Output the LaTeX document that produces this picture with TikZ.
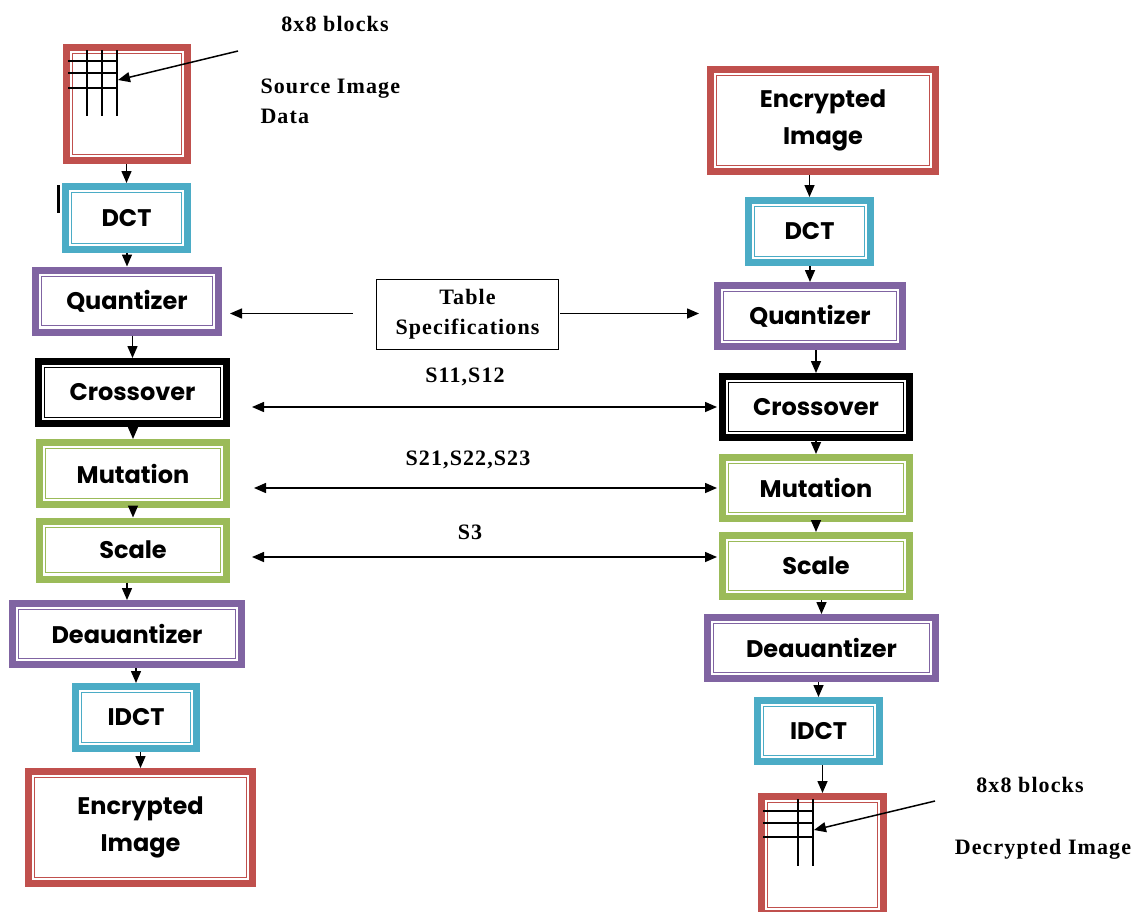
\documentclass[tikz,border=0pt]{standalone}
\usepackage{fontspec}
\setmainfont{Liberation Serif}
\newfontfamily\gothic{Poppins}
\newfontfamily\lblserif{Liberation Serif}[LetterSpace=5]
\usetikzlibrary{positioning,arrows.meta,calc}
\definecolor{encred}{HTML}{C0504D}
\definecolor{dctblue}{HTML}{4BACC6}
\definecolor{qpurple}{HTML}{8064A2}
\definecolor{gagreen}{HTML}{9BBB59}
\tikzset{
  stage/.style={draw=#1,line width=7pt,fill=white,inner sep=0pt,align=center,
    font=\gothic\bfseries\fontsize{24}{37}\selectfont,
    path picture={\draw[#1,line width=1.3pt]
      ([shift={(6.2pt,6.2pt)}]path picture bounding box.south west) rectangle
      ([shift={(-6.2pt,-6.2pt)}]path picture bounding box.north east);}}, % double frame
  dims/.style 2 args={minimum width=#1pt-7pt,minimum height=#2pt-7pt},
  flow/.style={-{Triangle[length=12pt,width=10pt]},line width=1.5pt},
  link/.style={{Triangle[length=12pt,width=10pt]}-{Triangle[length=12pt,width=10pt]},line width=1.5pt},
  lbl/.style={font=\lblserif\bfseries\fontsize{22}{30}\selectfont},
  blk/.style={line width=1.6pt},
}
\begin{document}
\begin{tikzpicture}[x=1pt,y=-1pt]
  \useasboundingbox (0,0) rectangle (1148,911);
  % ---- encryption side ----
  \node[stage=encred,dims={128}{120}] (srcimg) at (127,104) {};
  \node[stage=dctblue,dims={129}{70}] (dctL) at (126.5,218) {DCT};
  \node[stage=qpurple,dims={190}{69}] (quantL) at (127,301) {Quantizer};
  \node[stage=black,dims={195}{69}] (crossL) at (132.5,392.5) {Crossover};
  \node[stage=gagreen,dims={194}{69}] (mutL) at (133,473.5) {Mutation};
  \node[stage=gagreen,dims={194}{65}] (scaleL) at (133,550) {Scale};
  \node[stage=qpurple,dims={236}{68}] (deqL) at (127,634) {Deauantizer};
  \node[stage=dctblue,dims={128}{69}] (idctL) at (136,717.5) {IDCT};
  \node[stage=encred,dims={231}{119}] (encL) at (140.5,827.5) {Encrypted\\Image};
  \foreach \a/\b in {srcimg/dctL,dctL/quantL,quantL/crossL,crossL/mutL,mutL/scaleL,
      scaleL/deqL,deqL/idctL,idctL/encL}
    \draw[flow] (\a.south -| \b.north) -- (\b.north);
  \draw[line width=3pt] (58,185) -- (58,213);
  % 8x8 grid in the source image
  \foreach \y in {61,73,88} \draw[blk] (68,\y) -- (117,\y);
  \foreach \x in {87,102,117} \draw[blk] (\x,50) -- (\x,116);
  \coordinate (gridL) at (118,80);
  \coordinate (tagL) at (238,51);
  \draw[flow] (tagL) -- (gridL);
  \node[lbl] (blocksL) at (335,24) {8x8 blocks};
  \node[lbl,align=left,anchor=west] (srclbl) at (257,101) {Source Image\\Data};
  % ---- decryption side ----
  \node[stage=encred,dims={232}{109}] (encR) at (823,120.5) {Encrypted\\Image};
  \node[stage=dctblue,dims={129}{69}] (dctR) at (809.5,231.5) {DCT};
  \node[stage=qpurple,dims={192}{68}] (quantR) at (810,316) {Quantizer};
  \node[stage=black,dims={194}{68}] (crossR) at (816,407) {Crossover};
  \node[stage=gagreen,dims={194}{68}] (mutR) at (816,488) {Mutation};
  \node[stage=gagreen,dims={194}{68}] (scaleR) at (816,566) {Scale};
  \node[stage=qpurple,dims={235}{68}] (deqR) at (821.5,648) {Deauantizer};
  \node[stage=dctblue,dims={129}{68}] (idctR) at (818.5,731) {IDCT};
  \node[stage=encred,dims={129}{124}] (decimg) at (822.5,855) {};
  \foreach \a/\b in {encR/dctR,dctR/quantR,quantR/crossR,crossR/mutR,mutR/scaleR,
      scaleR/deqR,deqR/idctR,idctR/decimg}
    \draw[flow] (\a.south -| \b.north) -- (\b.north);
  % 8x8 grid in the decrypted image
  \foreach \y in {811,823,837} \draw[blk] (763,\y) -- (813,\y);
  \foreach \x in {798,813} \draw[blk] (\x,799) -- (\x,866);
  \coordinate (gridR) at (814,830);
  \coordinate (tagR) at (935,801);
  \draw[flow] (tagR) -- (gridR);
  \node[lbl] (blocksR) at (1030,785) {8x8 blocks};
  \node[lbl] (declbl) at (1043,849) {Decrypted Image};
  % ---- shared keys ----
  \node[lbl,draw,line width=1.2pt,align=center,dims={189}{77},inner sep=0pt] (tbl) at (467.5,314.5)
    {Table\\Specifications};
  \draw[flow,shorten <=23pt,shorten >=8pt] ([yshift=1pt]tbl.west) -- ([yshift=1pt]tbl.west -| quantL.east);
  \draw[flow,shorten <=1pt,shorten >=15pt] ([yshift=1pt]tbl.east) -- ([yshift=1pt]tbl.east -| quantR.west);
  \draw[link,shorten <=22pt,shorten >=2pt] (crossR.west -| crossL.east) -- (crossR.west);
  \draw[link,shorten <=24pt,shorten >=2pt] (mutR.west -| mutL.east) -- (mutR.west);
  \draw[link,shorten <=22pt,shorten >=2pt] ([yshift=9pt]scaleR.west -| scaleL.east) -- ([yshift=9pt]scaleR.west);
  \node[lbl] (s1) at (465,377) {S11,S12};
  \node[lbl] (s2) at (468,460) {S21,S22,S23};
  \node[lbl] (s3) at (470,532) {S3};
\end{tikzpicture}
\end{document}
